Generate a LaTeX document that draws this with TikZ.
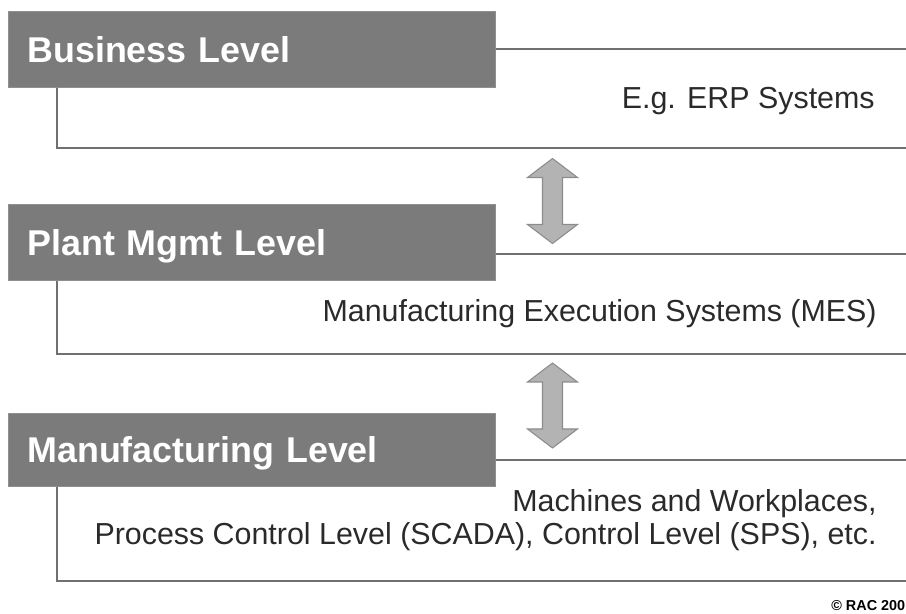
\documentclass[tikz,border=0pt]{standalone}
\usepackage{fontspec}
\setmainfont{Liberation Sans}
\newlength\px
\setlength\px{0.02cm}
\definecolor{hdrgray}{HTML}{7B7B7B}
\definecolor{framegray}{HTML}{707070}
\definecolor{arrowfill}{HTML}{B3B3B3}
\definecolor{arrowedge}{HTML}{8C8C8C}
\definecolor{bodytext}{HTML}{2A2A2A}
% up/down arrow between two levels, centred on a coordinate
\newcommand{\levelarrow}[1]{%
  \filldraw[arrowstyle, shift={(#1)}] (0,-42.5) -- (25,-23.5) -- (10,-23.5) -- (10,23.5) -- (25,23.5)
    -- (0,42.5) -- (-25,23.5) -- (-10,23.5) -- (-10,-23.5) -- (-25,-23.5) -- cycle;}
\begin{document}
\begin{tikzpicture}[x=0.02cm, y=-0.02cm,
  levelhead/.style={fill=hdrgray, draw=hdrgray!85, text=white, anchor=north west,
    font=\fontsize{20.4}{24}\selectfont\bfseries, minimum width=487\px,
    text width=449\px, inner xsep=19\px, inner ysep=0pt, text height=26\px, text depth=0pt},
  levelframe/.style={draw=framegray, line width=1.3pt},
  leveltext/.style={text=bodytext, font=\fontsize{17.3}{18.6}\selectfont, inner sep=0pt, anchor=base east},
  arrowstyle/.style={fill=arrowfill, draw=arrowedge, line width=0.6pt, line join=miter}]
\useasboundingbox (0,0) rectangle (906,614);
\clip (0,0) rectangle (906,614);

% level headers
\node[levelhead, minimum height=76\px] (biz) at (8,11) {Business Level};
\node[levelhead, minimum height=76\px] (plant) at (8,204) {Plant Mgmt Level};
\node[levelhead, minimum height=73\px] (manu) at (8,413) {Manufacturing Level};

% open frames of the levels
\draw[levelframe] ([yshift=-38\px]biz.north east) -- ++(411,0);
\draw[levelframe] ([xshift=49\px]biz.south west) -- ++(0,60) -- ++(849,0);
\draw[levelframe] ([yshift=-50\px]plant.north east) -- ++(411,0);
\draw[levelframe] ([xshift=49\px]plant.south west) -- ++(0,73) -- ++(849,0);
\draw[levelframe] ([yshift=-47\px]manu.north east) -- ++(411,0);
\draw[levelframe] ([xshift=49\px]manu.south west) -- ++(0,94) -- ++(849,0);

% contents
\node[leveltext] (erp) at (875,109) {E.g. ERP Systems};
\node[leveltext] (mes) at (877,322) {Manufacturing Execution Systems (MES)};
\node[leveltext, align=right] (scada) at (877,544)
  {Machines and Workplaces,\\Process Control Level (SCADA), Control Level (SPS), etc.};

% arrows between levels
\coordinate (arr1) at (552.5,201);
\coordinate (arr2) at (552.5,405.5);
\levelarrow{arr1}
\levelarrow{arr2}

\node[anchor=base west, inner sep=0pt, text=black, font=\fontsize{8.2}{9}\selectfont\bfseries]
  (copy) at (831,610) {\copyright\ RAC 200};
\end{tikzpicture}
\end{document}
